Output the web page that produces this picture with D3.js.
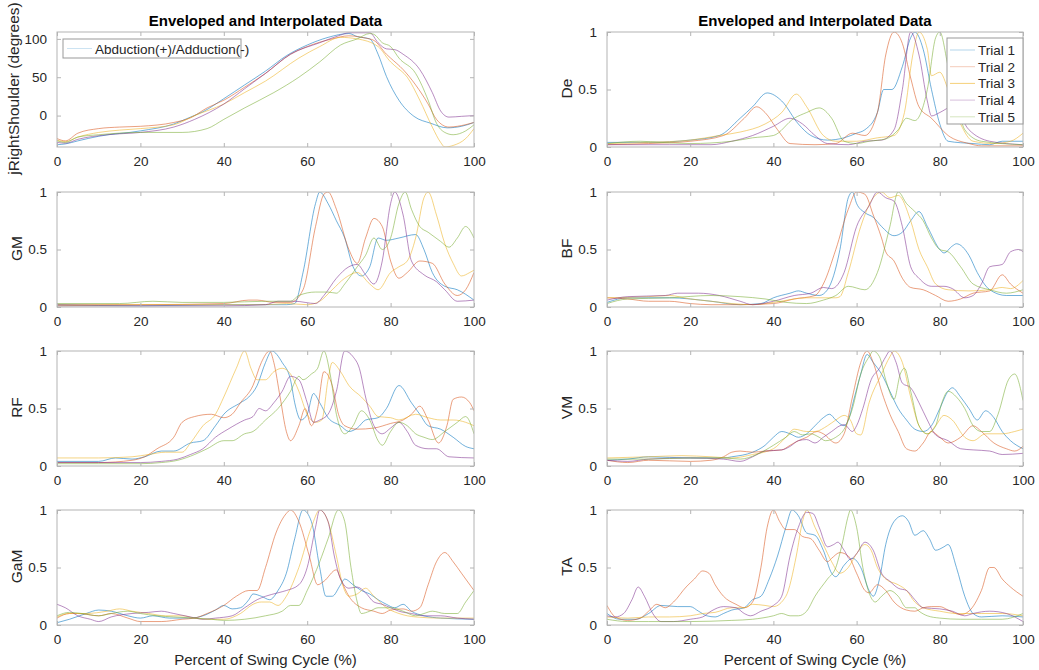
<!DOCTYPE html>
<html>
<head>
<meta charset="utf-8">
<script src="https://cdn.jsdelivr.net/npm/d3@7"></script>
<style>
  body { margin: 0; background: #fff; }
  svg { font-family: "Liberation Sans", Arial, sans-serif; }
</style>
</head>
<body>
<svg id="fig" width="1039" height="670"></svg>
<script>
// --- data: [percent of swing, value] ---
var trialNames = ["Trial 1", "Trial 2", "Trial 3", "Trial 4", "Trial 5"];
var trialColors = ["#0072BD", "#D95319", "#EDB120", "#7E2F8E", "#77AC30"];
var xTicks = [0, 20, 40, 60, 80, 100];
var shoulderTicks = [0, 50, 100];
var emgTicks = [0, 0.5, 1];

var shoulder = [
  [[0,-38],[2,-37],[5,-33],[10,-27],[20,-20],[28,-11],[32,-2],[35,5],[40,22],[45,40],[50,58],[55,78],[60,92],[65,102],[70,107],[72,103],[75,100],[77,80],[79,51],[82,20],[85.6,-1],[89.6,-10],[93.6,-16],[97,-14],[100,-9]],
  [[0,-30],[2,-33],[5,-23],[10,-17],[15,-15],[20,-14],[28,-9],[32,-3],[36,10],[40,20],[45,37],[50,55],[56,80],[60,90],[66,100],[70,104],[74,101],[76,98],[79,80],[80,75],[83,60],[86,40],[89,15],[91,-5],[94,-15],[96,-14],[100,-9]],
  [[0,-32],[2,-34],[5,-28],[10,-22],[15,-19],[20,-17],[28,-12],[33,0],[40,15],[45,30],[50,45],[58,75],[63,90],[68,102],[72,100],[77,90],[80,70],[81,65],[84,50],[87,20],[90,-15],[92,-35],[93,-41],[95,-39],[98,-30],[100,-17]],
  [[0,-35],[2,-36],[5,-31],[12,-25],[20,-22],[28,-15],[33,-5],[40,15],[45,35],[50,55],[56,80],[63,95],[68,105],[70,108],[75,108],[77,95],[79,87],[81,86],[83,80],[87,60],[90,30],[92,6],[94,-2],[97,-1],[100,0]],
  [[0,-33],[2,-35],[5,-28],[10,-25],[20,-22],[30,-22],[36,-17],[40,-5],[45,10],[52,30],[58,50],[63,70],[68,92],[72,100],[75,107],[76,106],[78,95],[80,90],[82,75],[86,55],[89,20],[91,-10],[93,-22],[95,-25],[98,-20],[100,-12]]
];

var deltoid = [
  [[0,0.04],[10,0.04],[20,0.06],[27,0.1],[32,0.25],[35,0.35],[38.5,0.47],[42,0.4],[46,0.2],[49,0.1],[53,0.06],[57,0.08],[60,0.12],[62,0.15],[65,0.3],[66.5,0.5],[68.5,0.5],[71,0.7],[73,0.95],[74,1],[76,0.85],[78,0.5],[80,0.2],[82,0.05],[88,0.03],[92,0.02],[95,0.05],[100,0.05]],
  [[0,0.02],[10,0.03],[20,0.05],[28,0.1],[33,0.25],[36,0.35],[38,0.3],[41,0.15],[44,0.03],[50,0.02],[55,0.03],[59,0.12],[62,0.1],[65,0.3],[67,0.8],[69,1],[71,0.9],[73,0.6],[75,0.35],[78,0.25],[82,0.1],[87,0.03],[90,0.01],[100,0.01]],
  [[0,0.03],[10,0.04],[20,0.06],[27,0.1],[32,0.13],[38,0.2],[42,0.3],[45.5,0.46],[48,0.35],[52,0.1],[55,0.05],[60,0.05],[65,0.08],[69,0.1],[71.5,0.3],[73.5,0.8],[75,1],[77,0.85],[78,0.62],[80,0.65],[82,0.5],[85,0.2],[88,0.05],[93,0.03],[97,0.05],[100,0.12]],
  [[0,0.02],[15,0.02],[25,0.02],[30,0.05],[35,0.1],[40,0.18],[44,0.25],[47,0.2],[50,0.1],[53,0.03],[58,0.02],[62,0.05],[66,0.06],[69,0.15],[71,0.5],[73,1],[75,0.8],[77,0.4],[78,0.27],[80,0.3],[83,0.35],[87,0.15],[92,0.05],[100,0.02]],
  [[0,0.03],[8,0.05],[13,0.04],[20,0.03],[30,0.05],[35,0.08],[40,0.1],[45,0.25],[48,0.3],[51,0.34],[54,0.25],[57,0.05],[60,0.03],[63,0.05],[67,0.07],[70,0.15],[72,0.25],[74,0.23],[77,0.5],[79,0.95],[80,1],[82,0.7],[84,0.4],[86,0.15],[90,0.05],[100,0.02]]
];

var gm = [
  [[0,0.02],[20,0.01],[40,0.02],[50,0.02],[55,0.02],[57,0.03],[59,0.3],[62,0.9],[63,1],[65,0.9],[67,0.75],[69,0.6],[71,0.35],[73,0.27],[75,0.35],[77,0.6],[79,0.58],[82,0.6],[86,0.63],[88,0.5],[90,0.3],[93,0.18],[96,0.15],[100,0.06]],
  [[0,0.02],[20,0.02],[40,0.03],[46,0.06],[48,0.06],[52,0.04],[56,0.04],[59,0.15],[62,0.7],[64,0.98],[65,1],[67,0.85],[70,0.5],[72,0.38],[74,0.6],[76,0.77],[78,0.7],[80,0.4],[82,0.25],[84,0.3],[87,0.4],[90,0.38],[93,0.2],[96,0.1],[98,0.15],[100,0.3]],
  [[0,0.01],[20,0.02],[40,0.02],[50,0.02],[55,0.03],[60,0.02],[63,0.05],[66,0.15],[69,0.25],[72,0.3],[75,0.2],[77,0.15],[80,0.3],[82,0.35],[84,0.4],[86,0.6],[88,0.95],[89,1],[91,0.8],[93,0.55],[95,0.38],[97,0.27],[99,0.3],[100,0.32]],
  [[0,0.01],[20,0.01],[40,0.01],[50,0.02],[53,0.05],[57,0.05],[62,0.03],[64,0.1],[67,0.25],[70,0.35],[72,0.37],[74,0.28],[76,0.2],[78,0.4],[80,0.9],[81,1],[83,0.8],[85,0.4],[88,0.28],[91,0.22],[93,0.15],[96,0.05],[100,0.06]],
  [[0,0.03],[15,0.03],[23,0.05],[30,0.04],[40,0.04],[50,0.05],[56,0.05],[58,0.1],[62,0.13],[65,0.13],[67,0.12],[69,0.2],[72,0.35],[74,0.45],[76,0.6],[78,0.5],[80,0.6],[82,0.9],[83.5,1],[85,0.85],[87,0.7],[89,0.65],[92,0.57],[94,0.52],[96,0.6],[98,0.7],[100,0.6]]
];

var bf = [
  [[0,0.04],[5,0.08],[15,0.08],[25,0.05],[32,0.02],[37,0.03],[40,0.08],[44,0.12],[46,0.14],[48,0.12],[51,0.1],[53,0.15],[56,0.5],[58,0.95],[59,1],[60,0.9],[62,0.82],[64,0.78],[66,0.7],[69,0.62],[71,0.65],[73,0.75],[75,0.83],[77,0.7],[80,0.5],[81,0.47],[83,0.53],[84,0.55],[87,0.45],[89,0.3],[92,0.15],[96,0.1],[100,0.1]],
  [[0,0.08],[5,0.07],[10,0.05],[15,0.05],[20,0.03],[25,0.02],[32,0.02],[40,0.03],[45,0.07],[50,0.1],[52,0.2],[55,0.5],[58,0.85],[60,1],[62,0.98],[64,0.8],[66,0.6],[67,0.48],[69,0.4],[71,0.25],[73,0.17],[76,0.15],[79,0.1],[82,0.05],[85,0.07],[88,0.12],[92,0.14],[95,0.28],[97,0.2],[100,0.12]],
  [[0,0.08],[10,0.09],[15,0.1],[20,0.07],[25,0.05],[30,0.03],[35,0.02],[40,0.04],[48,0.08],[55,0.08],[56,0.09],[58,0.3],[61,0.7],[64,0.95],[66,1],[68,0.95],[70,0.97],[73,0.75],[75,0.5],[77,0.35],[79,0.2],[82,0.15],[87,0.14],[92,0.15],[95,0.17],[97,0.16],[100,0.23]],
  [[0,0.06],[5,0.09],[14,0.1],[17,0.12],[22,0.12],[27,0.1],[32,0.05],[35,0.02],[40,0.05],[45,0.1],[49,0.12],[52,0.17],[54,0.16],[57,0.3],[60,0.7],[63,0.88],[65,1],[67,0.95],[69,0.92],[71,0.7],[73,0.35],[75,0.25],[78,0.18],[81,0.18],[83,0.16],[86,0.08],[88,0.1],[90,0.2],[92,0.35],[95,0.37],[97,0.48],[99,0.5],[100,0.48]],
  [[0,0.03],[5,0.07],[15,0.08],[25,0.1],[32,0.09],[38,0.07],[43,0.04],[48,0.03],[52,0.06],[55,0.1],[58,0.18],[62,0.15],[65,0.3],[68,0.7],[70,1],[72,0.9],[74,0.83],[76,0.75],[78,0.6],[80,0.5],[82,0.48],[85,0.35],[88,0.2],[92,0.15],[96,0.12],[100,0.15]]
];

var rf = [
  [[0,0.04],[10,0.04],[14,0.07],[18,0.06],[21,0.08],[25,0.13],[28,0.13],[32,0.2],[35,0.22],[38,0.35],[40,0.45],[44,0.55],[46,0.6],[48,0.7],[50,0.9],[51.5,1],[54,0.9],[56,0.75],[57,0.55],[58.5,0.4],[60,0.45],[61.5,0.63],[63,0.55],[65,0.42],[68,0.35],[70,0.3],[72,0.33],[74,0.4],[77,0.42],[79,0.5],[82,0.7],[85,0.55],[87,0.45],[89,0.35],[92,0.32],[95,0.25],[98,0.17],[100,0.15]],
  [[0,0.03],[10,0.03],[18,0.05],[21,0.08],[24,0.15],[28,0.25],[30,0.38],[33,0.43],[37,0.45],[40,0.42],[42,0.45],[44,0.55],[47,0.7],[49,0.9],[51,1],[52,0.9],[53.5,0.6],[55,0.3],[56,0.22],[58,0.35],[59.5,0.5],[61,0.35],[62.5,0.5],[64,0.82],[66,0.7],[67.5,0.45],[69,0.35],[72,0.32],[76,0.33],[80,0.37],[83,0.4],[85,0.45],[87,0.52],[89,0.4],[91.5,0.2],[93.5,0.35],[95,0.58],[97,0.6],[99,0.55],[100,0.48]],
  [[0,0.07],[5,0.07],[10,0.07],[18,0.08],[22,0.1],[26,0.12],[30,0.12],[32,0.2],[35,0.35],[38,0.45],[40,0.6],[43,0.85],[45,1],[46.5,0.85],[48,0.75],[50,0.75],[52,0.82],[54,0.85],[56,0.8],[58,0.65],[60,0.45],[62,0.38],[63.5,0.4],[65,0.75],[66,0.9],[68,0.82],[70,0.7],[73,0.6],[75,0.52],[77,0.43],[80,0.42],[82,0.4],[86,0.45],[89,0.42],[92,0.4],[95,0.4],[98,0.38],[100,0.35]],
  [[0,0.03],[10,0.03],[20,0.03],[25,0.04],[29,0.06],[32,0.1],[35,0.15],[38,0.25],[41,0.32],[45,0.4],[47,0.43],[48.5,0.5],[50,0.48],[52,0.55],[54,0.65],[56,0.78],[58,0.75],[60,0.55],[61.5,0.38],[63,0.4],[65,0.45],[67,0.65],[69,1],[71,0.95],[72.5,0.85],[74,0.6],[76,0.35],[78,0.28],[80,0.33],[82,0.38],[84,0.3],[86,0.18],[89,0.15],[91,0.15],[94,0.08],[100,0.07]],
  [[0,0.02],[10,0.02],[20,0.02],[25,0.03],[29,0.05],[33,0.1],[36,0.15],[40,0.22],[42,0.22],[45,0.28],[47,0.3],[50,0.4],[53,0.5],[56,0.65],[58,0.78],[59,0.75],[61,0.8],[62.5,0.85],[64,1],[65.5,0.8],[67,0.45],[69,0.28],[71,0.35],[73,0.48],[75,0.4],[77,0.22],[78,0.18],[80,0.3],[82,0.38],[84,0.35],[86,0.28],[88,0.25],[90,0.23],[93,0.3],[96,0.38],[98,0.43],[100,0.28]]
];

var vm = [
  [[0,0.05],[5,0.06],[10,0.08],[20,0.07],[28,0.07],[30,0.08],[35,0.12],[38,0.18],[40,0.25],[42,0.3],[44,0.28],[46,0.25],[48,0.28],[50,0.35],[52,0.42],[53.5,0.45],[55,0.4],[57,0.35],[58,0.4],[59.5,0.6],[61,0.8],[62.5,0.97],[64,0.9],[66,0.8],[68,0.65],[70,0.5],[72,0.4],[74,0.32],[76,0.3],[78,0.35],[80,0.5],[82,0.65],[83,0.68],[85,0.6],[87,0.5],[89,0.4],[91,0.48],[93,0.42],[95,0.3],[97,0.22],[100,0.15]],
  [[0,0.05],[5,0.03],[10,0.05],[20,0.04],[25,0.05],[28,0.08],[30,0.12],[32,0.13],[35,0.12],[38,0.13],[42,0.14],[44,0.18],[46,0.22],[48,0.25],[50.5,0.3],[52,0.28],[55,0.2],[57,0.28],[59,0.6],[61,0.9],[62.5,1],[64,0.9],[66,0.65],[68,0.45],[70,0.3],[72,0.15],[74,0.13],[76,0.2],[78,0.3],[80,0.25],[82,0.2],[85,0.25],[88,0.35],[90,0.3],[93,0.2],[96,0.15],[98,0.13],[100,0.17]],
  [[0,0.07],[10,0.08],[18,0.09],[25,0.08],[30,0.07],[35,0.1],[40,0.15],[43,0.25],[45,0.32],[48,0.3],[50,0.3],[53,0.35],[55,0.4],[57,0.44],[58.5,0.4],[60,0.28],[61,0.27],[63,0.55],[66,0.8],[68,0.95],[69,1],[71,0.9],[73,0.6],[75,0.35],[77,0.28],[79,0.35],[81,0.44],[83,0.4],[86,0.25],[88,0.22],[91,0.28],[95,0.28],[98,0.3],[100,0.32]],
  [[0,0.05],[5,0.04],[10,0.06],[20,0.07],[28,0.06],[32,0.04],[35,0.08],[38,0.13],[42,0.14],[44,0.17],[46,0.22],[48,0.23],[50,0.2],[52,0.25],[54,0.3],[56,0.35],[57,0.36],[59,0.3],[60,0.35],[61.5,0.5],[63.5,0.75],[65.5,0.85],[67,0.95],[68,1],[69.5,0.9],[71,0.72],[73,0.68],[75,0.55],[77,0.4],[79,0.27],[82,0.22],[85,0.15],[88,0.14],[92,0.13],[95,0.1],[100,0.11]],
  [[0,0.06],[10,0.06],[20,0.07],[28,0.07],[32,0.06],[36,0.1],[40,0.18],[43,0.25],[45,0.3],[47,0.27],[49,0.28],[51,0.25],[52.5,0.22],[55,0.25],[57,0.32],[59,0.5],[61,0.8],[63,0.95],[64,1],[65.5,0.95],[67,0.75],[69,0.58],[70.5,0.8],[71.5,0.85],[73,0.65],[75,0.35],[77,0.28],[79,0.35],[80.5,0.55],[82,0.65],[84,0.6],[86,0.5],[88,0.35],[90,0.3],[92,0.3],[94,0.45],[96.5,0.75],[98,0.8],[100,0.57]]
];

var gam = [
  [[0,0.02],[3,0.05],[7,0.1],[10,0.13],[13,0.12],[17,0.08],[20,0.06],[23,0.08],[27,0.06],[32,0.06],[35,0.08],[38,0.13],[40,0.17],[42,0.14],[44,0.15],[46,0.22],[47,0.27],[49,0.25],[51,0.22],[53,0.3],[55,0.45],[57,0.75],[59,1],[61,0.9],[63,0.5],[64.5,0.25],[66,0.25],[68,0.35],[69,0.4],[71,0.35],[73,0.3],[75,0.27],[77,0.22],[79,0.18],[81,0.15],[83,0.18],[85,0.12],[88,0.08],[92,0.06],[100,0.05]],
  [[0,0.06],[3,0.1],[5,0.1],[10,0.08],[13,0.1],[17,0.06],[20,0.03],[25,0.03],[30,0.05],[33,0.06],[36,0.1],[40,0.17],[43,0.25],[46,0.3],[48,0.3],[50,0.5],[52.5,0.8],[55,0.97],[56,1],[58,0.9],[60.5,0.6],[62.5,0.35],[64,0.38],[67,0.48],[68,0.4],[70,0.25],[73,0.15],[76,0.12],[78,0.1],[80,0.13],[83,0.14],[85,0.12],[87,0.15],[89,0.35],[91,0.55],[93,0.63],[95,0.55],[97,0.45],[100,0.3]],
  [[0,0.07],[3,0.1],[7,0.1],[12,0.12],[15,0.14],[18,0.12],[22,0.1],[26,0.08],[30,0.08],[33,0.06],[36,0.05],[40,0.05],[44,0.1],[47,0.18],[49,0.2],[51,0.2],[53,0.17],[55,0.25],[58,0.5],[61,0.85],[63,1],[65,0.9],[67,0.6],[68.5,0.35],[70,0.25],[72,0.27],[74,0.32],[76,0.25],[79,0.15],[82,0.1],[86,0.07],[92,0.06],[100,0.06]],
  [[0,0.18],[2,0.15],[5,0.08],[8,0.05],[10,0.03],[13,0.07],[18,0.1],[22,0.11],[25,0.12],[28,0.1],[32,0.07],[35,0.05],[38,0.06],[42,0.08],[45,0.15],[48,0.22],[50,0.25],[53,0.28],[55,0.3],[58,0.35],[60,0.5],[62,0.85],[63,1],[65,0.9],[66.5,0.6],[68,0.4],[70,0.32],[72,0.33],[74,0.28],[76,0.2],[78,0.18],[80,0.15],[82,0.12],[85,0.1],[88,0.08],[92,0.08],[96,0.06],[100,0.05]],
  [[0,0.08],[3,0.11],[6,0.1],[10,0.08],[13,0.1],[17,0.12],[20,0.1],[24,0.08],[28,0.07],[33,0.06],[37,0.05],[40,0.04],[45,0.05],[50,0.08],[54,0.12],[56,0.17],[58,0.17],[60,0.3],[63,0.55],[65,0.75],[67.5,1],[69,0.9],[70.5,0.5],[72,0.2],[73,0.1],[75,0.12],[77,0.15],[80,0.15],[83,0.12],[86,0.08],[88,0.1],[90,0.12],[93,0.1],[96,0.1],[98,0.2],[100,0.3]]
];

var ta = [
  [[0,0.1],[3,0.05],[7,0.05],[10,0.1],[13,0.17],[17,0.16],[20,0.16],[22,0.12],[24,0.08],[26,0.07],[28,0.1],[30,0.13],[33,0.15],[35,0.22],[37,0.25],[39,0.4],[41,0.6],[43,0.85],[44.5,1],[46,0.95],[48,0.8],[50,0.78],[52,0.65],[54,0.45],[55,0.42],[57,0.52],[59,0.58],[61,0.5],[63,0.3],[64,0.25],[65.5,0.4],[67,0.7],[69,0.9],[71,0.95],[72.5,0.9],[74,0.78],[76,0.82],[77.5,0.75],[79,0.65],[81,0.68],[82,0.7],[84,0.5],[86,0.25],[88,0.1],[90,0.07],[95,0.08],[100,0.07]],
  [[0,0.17],[2,0.07],[5,0.04],[8,0.06],[10,0.12],[12,0.18],[14,0.15],[16,0.2],[19,0.33],[21,0.4],[23,0.47],[24.5,0.45],[26,0.35],[28,0.25],[31,0.18],[33,0.15],[35,0.2],[37,0.5],[38.5,0.85],[40,1],[41.5,0.9],[43,0.83],[45,0.83],[47,0.77],[49,0.75],[51,0.65],[53,0.55],[54,0.58],[56,0.63],[58,0.6],[60,0.45],[62,0.3],[63,0.28],[65,0.35],[67,0.3],[69,0.2],[72,0.13],[74,0.12],[76,0.15],[78,0.16],[80,0.16],[82,0.13],[85,0.09],[87,0.12],[90,0.3],[92,0.5],[93,0.5],[95,0.4],[97,0.33],[100,0.25]],
  [[0,0.07],[5,0.06],[10,0.07],[15,0.07],[20,0.08],[23,0.1],[26,0.11],[30,0.15],[33,0.15],[35,0.18],[38,0.17],[40,0.16],[43,0.25],[45.5,0.6],[47,0.9],[48,1],[50,0.85],[52,0.7],[54,0.55],[56,0.45],[58,0.5],[60,0.62],[62,0.7],[63.5,0.65],[65,0.5],[67,0.4],[70,0.35],[72,0.3],[74,0.2],[76,0.15],[80,0.12],[84,0.1],[90,0.1],[95,0.1],[100,0.08]],
  [[0,0.08],[2,0.07],[4,0.1],[6,0.22],[7.5,0.33],[9,0.25],[11,0.1],[13,0.03],[16,0.03],[20,0.05],[23,0.07],[25,0.12],[28,0.16],[31,0.15],[33,0.1],[34.5,0.08],[37,0.12],[40,0.17],[42,0.25],[44,0.6],[46,0.85],[48,0.98],[49.5,0.97],[51,0.85],[53,0.68],[54.5,0.7],[55.5,0.72],[57,0.65],[58.5,0.57],[60,0.62],[62,0.72],[64,0.65],[66,0.45],[68,0.38],[70,0.32],[72,0.3],[74,0.22],[76,0.15],[80,0.14],[83,0.12],[86,0.08],[88,0.1],[92,0.12],[96,0.1],[100,0.03]],
  [[0,0.05],[5,0.03],[10,0.03],[20,0.03],[30,0.04],[35,0.05],[40,0.08],[42,0.1],[44,0.08],[46,0.08],[48,0.12],[50,0.25],[53,0.4],[55,0.5],[56.5,0.7],[58,0.95],[58.5,1],[60,0.85],[61.5,0.5],[63,0.28],[64.5,0.2],[66,0.25],[68,0.3],[70,0.25],[72,0.15],[74,0.15],[75,0.12],[77,0.08],[80,0.06],[85,0.05],[90,0.05],[95,0.05],[100,0.1]]
];

// --- layout ---
var svg = d3.select("#fig"),
	rowTops = [32, 192, 351, 510],
	panelH = 115,
	colX = [[57, 474], [607, 1023]],
	textColor = "#262626",
	boxColor = "#b4b4b4";

var panels = [
	{ data: shoulder, col: 0, row: 0, label: "jRightShoulder (degrees)", domain: [-41, 109], ticks: shoulderTicks, title: true, legend: "single" },
	{ data: gm, col: 0, row: 1, label: "GM", domain: [0, 1], ticks: emgTicks },
	{ data: rf, col: 0, row: 2, label: "RF", domain: [0, 1], ticks: emgTicks },
	{ data: gam, col: 0, row: 3, label: "GaM", domain: [0, 1], ticks: emgTicks, xlabel: true },
	{ data: deltoid, col: 1, row: 0, label: "De", domain: [0, 1], ticks: emgTicks, title: true, legend: "trials" },
	{ data: bf, col: 1, row: 1, label: "BF", domain: [0, 1], ticks: emgTicks },
	{ data: vm, col: 1, row: 2, label: "VM", domain: [0, 1], ticks: emgTicks },
	{ data: ta, col: 1, row: 3, label: "TA", domain: [0, 1], ticks: emgTicks, xlabel: true }
];

panels.forEach(function(p, idx) { drawPanel(p, idx); });

function drawPanel(p, idx) {
	var left = colX[p.col][0],
		right = colX[p.col][1],
		top = rowTops[p.row],
		bottom = top + panelH,
		x = d3.scaleLinear().domain([0, 100]).range([left, right]),
		y = d3.scaleLinear().domain(p.domain).range([bottom, top]),
		g = svg.append("g").attr("class", "panel");

	// clip the traces to the axes box
	svg.append("clipPath").attr("id", "clip" + idx)
	  .append("rect")
		.attr("x", left).attr("y", top)
		.attr("width", right - left).attr("height", panelH);

	var line = d3.line()
		.x(function(d) { return x(d[0]); })
		.y(function(d) { return y(d[1]); })
		.curve(d3.curveMonotoneX);

	g.append("g").attr("clip-path", "url(#clip" + idx + ")")
	  .selectAll("path").data(p.data)
	  .enter().append("path")
		.attr("d", line)
		.attr("fill", "none")
		.attr("stroke", function(d, i) { return trialColors[i]; })
		.attr("stroke-width", 0.9)
		.attr("stroke-opacity", 0.62);

	var fmt = function(d) { return String(d); };

	// --- AXES --- //
	g.append("g").attr("transform", "translate(0," + bottom + ")")
		.call(d3.axisBottom(x).tickValues(xTicks).tickSize(-4).tickPadding(9).tickFormat(fmt));
	g.append("g").attr("transform", "translate(0," + top + ")")
		.call(d3.axisTop(x).tickValues(xTicks).tickSize(-4).tickFormat(""));
	g.append("g").attr("transform", "translate(" + left + ",0)")
		.call(d3.axisLeft(y).tickValues(p.ticks).tickSize(-4).tickPadding(10).tickFormat(fmt));
	g.append("g").attr("transform", "translate(" + right + ",0)")
		.call(d3.axisRight(y).tickValues(p.ticks).tickSize(-4).tickFormat(""));

	g.selectAll(".domain").remove();
	g.selectAll(".tick line").attr("stroke", boxColor);
	g.selectAll(".tick text")
		.attr("fill", textColor)
		.style("font-size", "13.5px")
		.style("font-family", "\"Liberation Sans\", Arial, sans-serif");

	g.append("rect")
		.attr("x", left).attr("y", top)
		.attr("width", right - left).attr("height", panelH)
		.attr("fill", "none")
		.attr("stroke", boxColor)
		.attr("stroke-width", 1);

	// y label
	var labelX = (p.legend === "single") ? left - 38 : left - 35;
	g.append("text")
		.attr("transform", "translate(" + labelX + "," + ((top + bottom) / 2 - 1) + ") rotate(-90)")
		.attr("text-anchor", "middle")
		.attr("fill", textColor)
		.style("font-size", "15.5px")
		.text(p.label);

	if (p.title) {
		g.append("text")
			.attr("x", (left + right) / 2).attr("y", top - 6)
			.attr("text-anchor", "middle")
			.attr("fill", "#000")
			.style("font-size", "15px")
			.style("font-weight", "bold")
			.text("Enveloped and Interpolated Data");
	}

	if (p.xlabel) {
		g.append("text")
			.attr("x", (left + right) / 2).attr("y", bottom + 40)
			.attr("text-anchor", "middle")
			.attr("fill", textColor)
			.style("font-size", "15px")
			.text("Percent of Swing Cycle (%)");
	}

	// --- LEGENDS --- //
	if (p.legend === "single") {
		var lg = g.append("g");
		lg.append("rect")
			.attr("x", left + 6).attr("y", top + 7)
			.attr("width", 178).attr("height", 19)
			.attr("fill", "#fff").attr("stroke", "#999").attr("stroke-width", 1);
		lg.append("line")
			.attr("x1", left + 10).attr("x2", left + 35)
			.attr("y1", top + 16.5).attr("y2", top + 16.5)
			.attr("stroke", trialColors[0]).attr("stroke-opacity", 0.2);
		lg.append("text")
			.attr("x", left + 38).attr("y", top + 21.5)
			.attr("fill", textColor)
			.style("font-size", "13.5px")
			.text("Abduction(+)/Adduction(-)");
	}
	if (p.legend === "trials") {
		var tg = g.append("g"),
			lx = right - 76;
		tg.append("rect")
			.attr("x", lx).attr("y", top + 6)
			.attr("width", 76).attr("height", 86)
			.attr("fill", "#fff").attr("stroke", "#999").attr("stroke-width", 1);
		var item = tg.selectAll(".item").data(trialNames)
		  .enter().append("g")
			.attr("class", "item")
			.attr("transform", function(d, i) { return "translate(" + lx + "," + (top + 18 + i * 16.7) + ")"; });
		item.append("line")
			.attr("x1", 3).attr("x2", 28)
			.attr("stroke", function(d, i) { return trialColors[i]; })
			.attr("stroke-opacity", function(d, i) { return i === 2 ? 0.6 : 0.3; });
		item.append("text")
			.attr("x", 31).attr("y", 5)
			.attr("fill", textColor)
			.style("font-size", "13.5px")
			.text(function(d) { return d; });
	}
}
</script>
</body>
</html>
